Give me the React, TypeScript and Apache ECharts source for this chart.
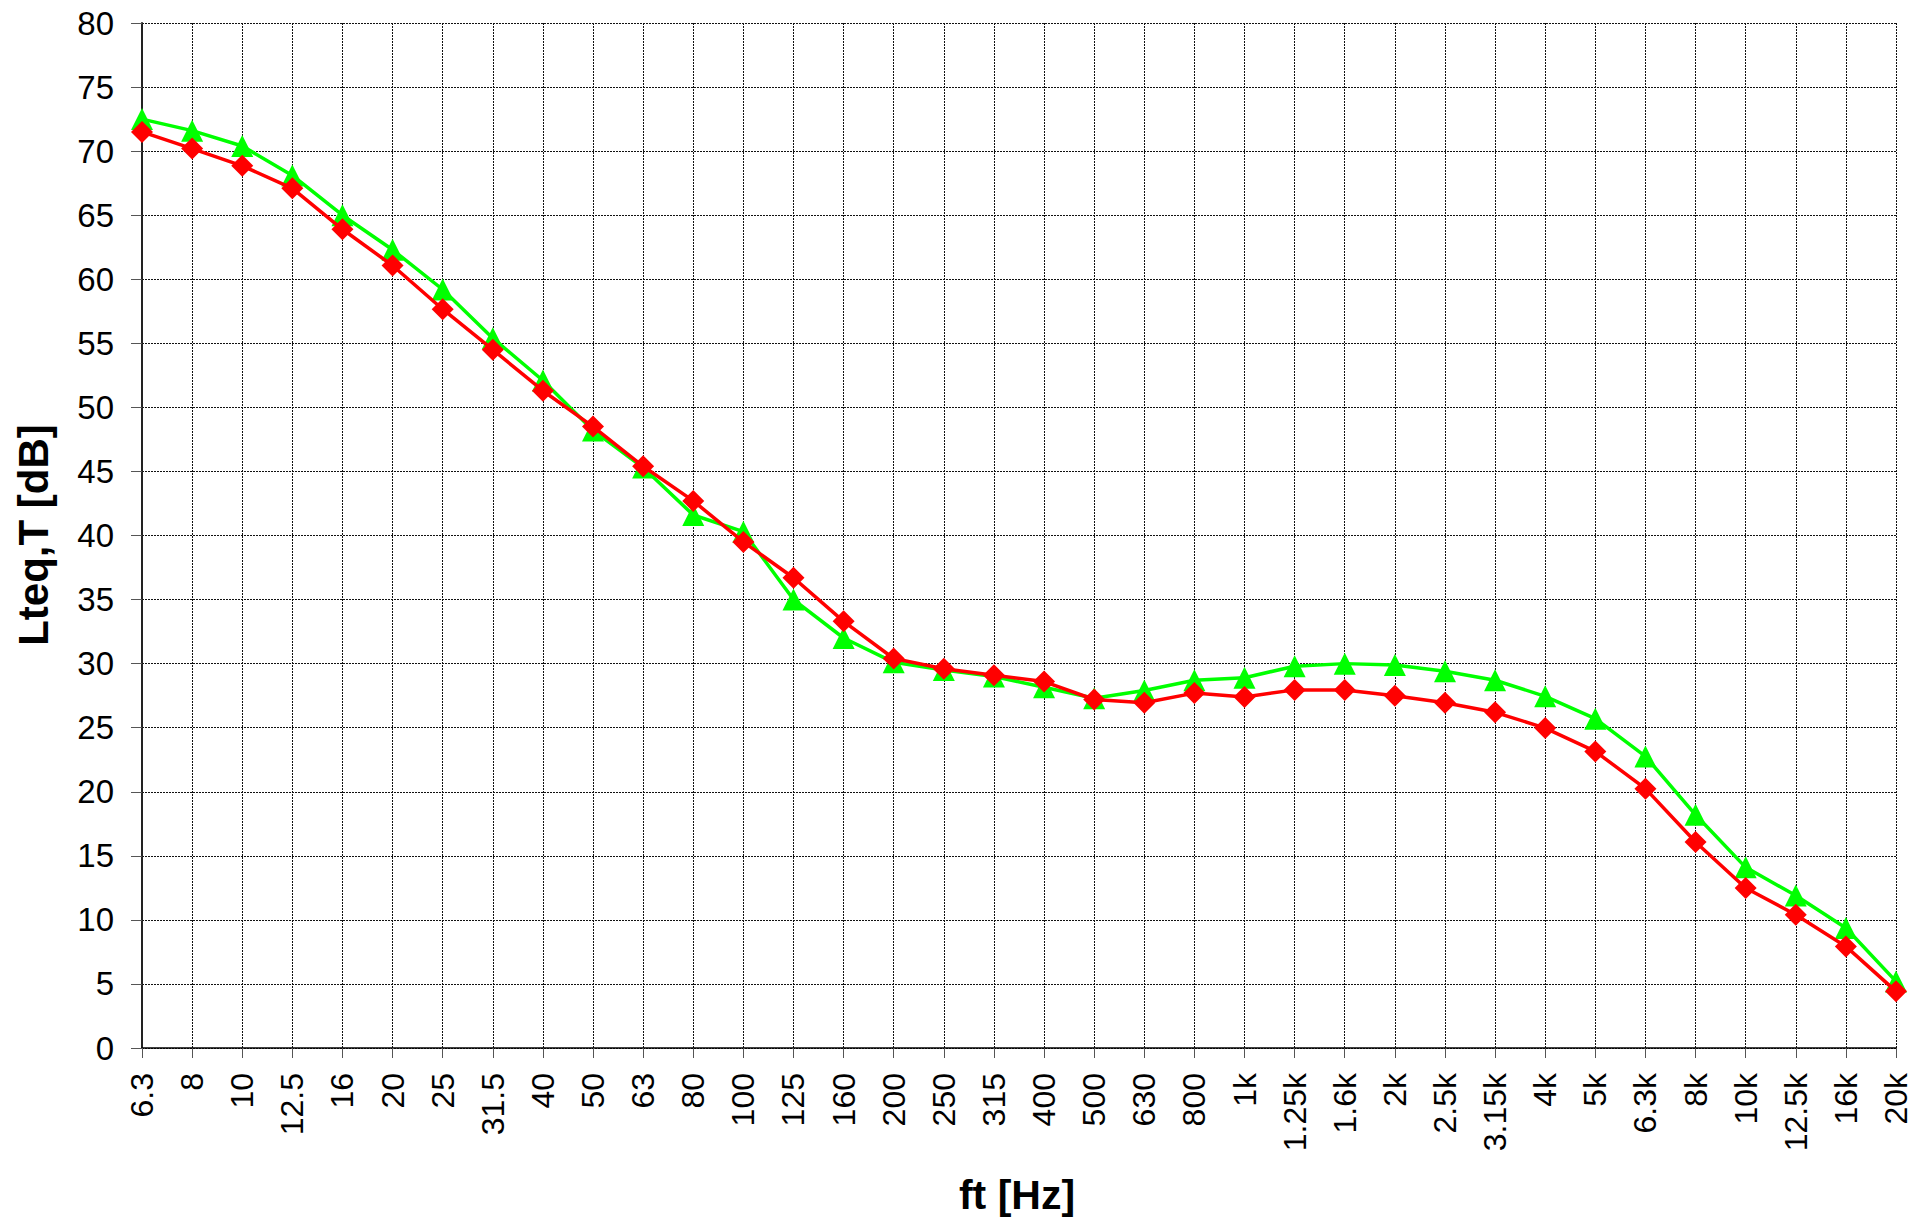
import React, { useEffect, useRef } from "react";
import * as echarts from "echarts";

const categories = [
  "6.3", "8", "10", "12.5", "16", "20", "25", "31.5", "40", "50", "63", "80",
  "100", "125", "160", "200", "250", "315", "400", "500", "630", "800", "1k",
  "1.25k", "1.6k", "2k", "2.5k", "3.15k", "4k", "5k", "6.3k", "8k", "10k",
  "12.5k", "16k", "20k",
];

const greenValues = [
  72.5, 71.6, 70.4, 68.1, 65.0, 62.3, 59.2, 55.4, 52.1, 48.2, 45.3, 41.6,
  40.3, 35.0, 32.0, 30.1, 29.5, 29.0, 28.15, 27.3, 27.9, 28.7, 28.9,
  29.8, 30.0, 29.9, 29.4, 28.7, 27.45, 25.7, 22.76, 18.2, 14.1,
  11.9, 9.37, 5.2,
];

const redValues = [
  71.5, 70.2, 68.85, 67.1, 63.9, 61.07, 57.66, 54.5, 51.3, 48.5, 45.4, 42.7,
  39.5, 36.7, 33.3, 30.4, 29.6, 29.1, 28.6, 27.2, 26.95, 27.7, 27.4,
  27.95, 27.95, 27.5, 26.95, 26.2, 24.97, 23.15, 20.24, 16.08, 12.49,
  10.4, 7.93, 4.42,
];

const yTitle = "Lteq,T [dB]";
const xTitle = "ft [Hz]";

const FONT = "'Liberation Sans', Arial, Helvetica, sans-serif";

export default function App() {
  const ref = useRef<HTMLDivElement>(null);

  useEffect(() => {
    if (!ref.current) return;
    const chart = echarts.init(ref.current, null, { renderer: "svg" });
    const gridLine = { color: "#111", width: 1, type: [2, 1] as any };
    chart.setOption({
      animation: false,
      backgroundColor: "#fff",
      grid: { left: 142, right: 34, top: 23, bottom: 172, containLabel: false },
      xAxis: {
        type: "category",
        data: categories,
        boundaryGap: false,
        axisLine: { show: true, lineStyle: { color: "#000", width: 1.5 } },
        axisTick: { show: true, length: 10, inside: false, alignWithLabel: true, lineStyle: { color: "#555", width: 1 } },
        axisLabel: {
          rotate: 90,
          margin: 25,
          fontSize: 32,
          fontFamily: FONT,
          color: "#000",
          interval: 0,
        },
        splitLine: { show: true, lineStyle: gridLine },
      },
      yAxis: {
        type: "value",
        min: 0,
        max: 80,
        interval: 5,
        axisLine: { show: true, lineStyle: { color: "#222", width: 2 } },
        axisTick: { show: true, length: 11, inside: false, lineStyle: { color: "#555", width: 1 } },
        axisLabel: {
          margin: 28,
          fontSize: 33,
          fontFamily: FONT,
          color: "#000",
        },
        splitLine: { show: true, lineStyle: gridLine },
      },
      graphic: [
        {
          type: "text",
          x: 33,
          y: 535,
          rotation: Math.PI / 2,
          style: {
            text: yTitle,
            font: `bold 42px ${FONT}`,
            fill: "#000",
            textAlign: "center",
            textVerticalAlign: "middle",
          },
        },
        {
          type: "text",
          x: 1017,
          y: 1195,
          style: {
            text: xTitle,
            font: `bold 41px ${FONT}`,
            fill: "#000",
            textAlign: "center",
            textVerticalAlign: "middle",
          },
        },
      ],
      series: [
        {
          name: "green",
          type: "line",
          data: greenValues,
          symbol: "triangle",
          symbolSize: 22,
          showAllSymbol: true,
          lineStyle: { color: "#00ff00", width: 3.5 },
          itemStyle: { color: "#00ff00" },
          z: 2,
        },
        {
          name: "red",
          type: "line",
          data: redValues,
          symbol: "diamond",
          symbolSize: 22,
          showAllSymbol: true,
          lineStyle: { color: "#ff0000", width: 3.5 },
          itemStyle: { color: "#ff0000" },
          z: 3,
        },
      ],
    });
    return () => chart.dispose();
  }, []);

  return (
    <div
      ref={ref}
      style={{ position: "absolute", left: 0, top: 0, width: 1930, height: 1220 }}
    />
  );
}
